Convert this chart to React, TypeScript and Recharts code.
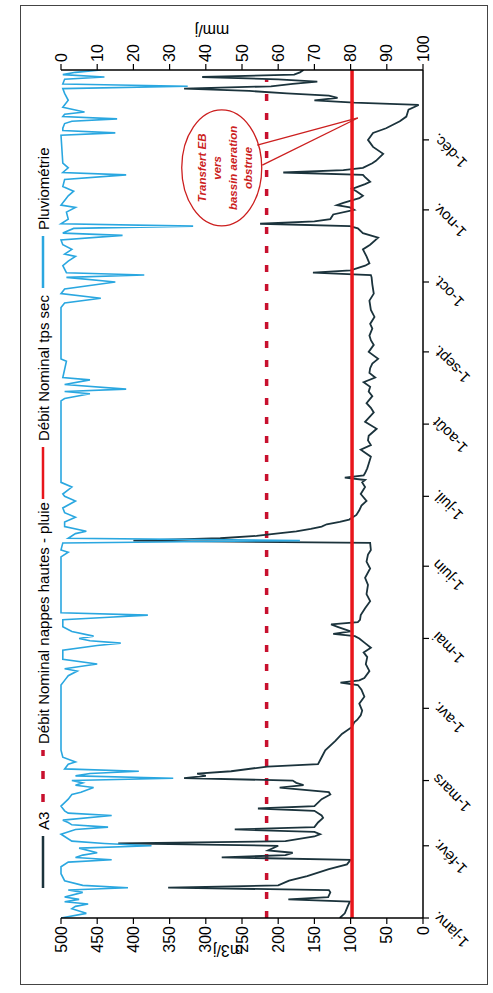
import React from 'react';
import { ComposedChart, Line, XAxis, YAxis, ReferenceLine, ReferenceDot } from 'recharts';

// day of year (0 = 1 janv.) -> value
const monthTicks = [0, 31, 59, 90, 120, 151, 181, 212, 243, 273, 304, 334];
const monthLabels = [
  '1-janv.', '1-févr.', '1-mars', '1-avr.', '1-mai', '1-juin',
  '1-juil.', '1-août', '1-sept.', '1-oct.', '1-nov.', '1-déc.',
];
const flowTicks = [0, 50, 100, 150, 200, 250, 300, 350, 400, 450, 500];
const rainTicks = [0, 10, 20, 30, 40, 50, 60, 70, 80, 90, 100];

const debitNominalPluie = 216;
const debitNominalSec = 98;

// A3 (m3/j)
const a3Flow: [number, number][] = [
  [0, 115], [2, 108], [5, 104], [7, 101], [8, 186], [9, 131], [11, 128], [12, 130], [13, 352], [14, 200],
  [16, 185], [18, 160], [21, 130], [23, 105], [25, 100], [26, 278], [27, 190], [28, 180], [29, 214], [31, 200],
  [32, 421], [33, 190], [35, 150], [36, 142], [37, 150], [38, 260], [39, 150], [41, 145], [43, 138], [44, 140],
  [46, 150], [47, 228], [48, 150], [51, 140], [53, 128], [54, 130], [56, 198], [57, 165], [58, 175], [59, 180],
  [60, 330], [61, 300], [62, 312], [63, 265], [65, 215], [66, 145], [69, 140], [72, 135], [76, 121], [79, 112],
  [82, 98], [84, 95], [85, 91], [87, 86], [89, 84], [92, 88], [95, 81], [98, 85], [100, 90], [101, 114],
  [102, 88], [103, 81], [106, 74], [109, 79], [112, 77], [114, 82], [116, 72], [118, 80], [120, 88], [121, 94],
  [122, 124], [123, 100], [125, 118], [126, 127], [127, 90], [128, 87], [130, 86], [133, 80], [136, 73], [139, 78],
  [143, 76], [146, 80], [150, 73], [153, 78], [156, 76], [158, 72], [161, 73], [162, 400], [163, 280], [164, 230],
  [165, 203], [166, 175], [167, 155], [168, 140], [169, 133], [170, 115], [171, 102], [173, 92], [175, 88], [177, 85],
  [179, 78], [182, 86], [185, 80], [187, 84], [188, 80], [189, 108], [190, 82], [191, 80], [193, 77], [195, 75],
  [198, 72], [201, 86], [203, 72], [205, 76], [207, 75], [210, 64], [213, 80], [215, 74], [217, 68], [219, 72],
  [221, 78], [224, 70], [226, 75], [228, 73], [230, 82], [232, 66], [234, 74], [236, 73], [238, 70], [240, 62],
  [243, 75], [246, 68], [248, 72], [250, 74], [253, 70], [255, 73], [258, 67], [261, 72], [265, 74], [268, 68],
  [272, 70], [275, 71], [276, 72], [277, 152], [278, 100], [280, 80], [281, 74], [284, 78], [287, 83], [289, 73],
  [292, 62], [294, 83], [296, 90], [297, 101], [298, 225], [299, 150], [300, 128], [302, 124], [304, 95], [305, 101],
  [306, 119], [307, 110], [309, 88], [310, 83], [312, 92], [313, 98], [315, 80], [316, 73], [318, 80], [319, 83],
  [320, 193], [321, 110], [322, 83], [324, 70], [325, 65], [328, 55], [331, 69], [334, 76], [337, 69], [339, 51],
  [342, 32], [344, 23], [347, 20], [349, 6], [350, 95], [351, 150], [352, 118], [353, 130], [354, 188], [355, 240],
  [356, 330], [357, 210], [358, 180], [359, 146], [360, 200], [361, 305], [362, 178], [363, 170], [364, 165],
];

// Pluviométrie (mm/j)
const pluviometrie: [number, number][] = [
  [0, 0], [2, 7], [4, 3], [5, 4], [6, 7.5], [7, 1], [8, 5], [9, 1], [11, 6], [12, 2],
  [13, 18.5], [14, 6], [16, 1], [19, 0], [22, 0], [24, 2], [25, 14], [26, 4], [27, 6], [28, 10],
  [30, 5], [31, 25], [32, 12], [33, 3], [35, 1], [36, 0], [38, 4], [39, 13], [40, 3], [41, 2],
  [42, 0.5], [44, 14], [45, 2], [46, 1], [48, 0], [51, 2], [53, 3], [54, 5.5], [56, 9], [57, 4],
  [58, 6], [59, 3], [60, 31], [61, 4], [62, 8], [63, 21.5], [64, 1], [66, 2], [67, 4], [69, 0.5],
  [72, 0], [100, 0], [102, 1], [104, 2], [106, 4.5], [107, 1], [109, 10], [111, 0.5], [115, 0.5], [117, 10],
  [118, 16.5], [119, 8], [120, 5], [121, 9], [123, 3], [125, 0.5], [128, 0.5], [129, 12], [130, 24], [131, 0],
  [155, 0], [157, 2], [158, 0], [161, 0.5], [162, 66], [163, 2], [165, 4], [166, 7], [168, 1], [170, 1],
  [172, 4], [174, 1], [176, 0.5], [179, 4], [181, 1], [182, 0.5], [185, 3], [187, 0], [222, 0], [223, 1],
  [225, 8], [226, 1], [227, 18], [229, 1], [231, 8], [232, 0.5], [239, 1.5], [240, 0], [262, 0], [264, 1],
  [266, 11], [268, 0], [270, 1], [273, 15], [275, 1.5], [276, 23], [277, 1.5], [280, 0.5], [282, 2], [284, 4],
  [285, 1], [287, 3], [289, 0.5], [291, 0], [293, 17], [294, 0.5], [296, 3.5], [297, 36.5], [298, 0], [300, 2],
  [303, 1.5], [305, 4], [306, 0], [308, 1], [310, 2], [312, 3.5], [314, 0.5], [317, 1], [319, 18], [320, 0.5],
  [322, 2], [324, 0.5], [336, 0], [337, 15], [338, 0.5], [339, 0.5], [341, 1], [342, 3], [343, 15.5], [344, 0.5],
  [345, 1], [346, 6.5], [348, 0.5], [351, 2], [354, 1], [356, 0.5], [357, 35], [358, 0.5], [360, 1], [361, 12],
  [362, 0.5], [363, 4], [364, 11],
];

// callout "Transfert EB vers bassin aeration obstrue"
const calloutCenter = { day: 322, flow: 278 };
const calloutTail = [
  [{ x: 331.8, y: 229 }, { x: 343.4, y: 90 }],
  [{ x: 323.2, y: 222 }, { x: 343.4, y: 90 }],
];
const calloutLines = ['Transfert EB', 'vers', 'bassin aeration', 'obstrue'];

const COLORS = {
  a3: '#1b333c',
  pluie: '#c8102e',
  sec: '#e8151b',
  rain: '#2aa7e0',
  callout: '#cc1f1f',
};

const FONT = '"Liberation Sans", Arial, sans-serif';

const toPoints = (rows: [number, number][]) => rows.map(([day, v]) => ({ day, v }));

const LegendSymbol = ({ color, dashed }: { color: string; dashed?: boolean }) => (
  <svg width={52} height={6} style={{ display: 'block' }}>
    <line
      x1={0}
      y1={3}
      x2={52}
      y2={3}
      stroke={color}
      strokeWidth={dashed ? 3.5 : 2.5}
      strokeDasharray={dashed ? '8 15' : undefined}
    />
  </svg>
);

const legendEntries = [
  { label: 'A3', color: COLORS.a3, dashed: false, left: 96 },
  { label: 'Débit Nominal nappes hautes - pluie', color: COLORS.pluie, dashed: true, left: 182 },
  { label: 'Débit Nominal tps sec', color: COLORS.sec, dashed: false, left: 485 },
  { label: 'Pluviométrie', color: COLORS.rain, dashed: false, left: 696 },
];

const CalloutShape = (props: { cx?: number; cy?: number }) => {
  const { cx = 0, cy = 0 } = props;
  return (
    <g>
      <ellipse cx={cx} cy={cy} rx={58} ry={40} fill="none" stroke={COLORS.callout} strokeWidth={1.3} />
      {calloutLines.map((t, i) => (
        <text
          key={t}
          x={cx}
          y={cy - 16 + i * 15.5}
          textAnchor="middle"
          fontSize={11.5}
          fontStyle="italic"
          fontWeight="bold"
          fill={COLORS.callout}
          style={{ fontFamily: FONT }}
        >
          {t}
        </text>
      ))}
    </g>
  );
};

export default function App() {
  const flowData = toPoints(a3Flow);
  const rainData = toPoints(pluviometrie);
  const tickStyle = { fontSize: 16, fill: '#000' };

  return (
    <div style={{ position: 'absolute', left: 20, top: 5, width: 468, height: 980, overflow: 'hidden' }}>
      <div
        style={{
          position: 'absolute',
          left: 0,
          top: 0,
          width: 980,
          height: 468,
          transformOrigin: '0 0',
          transform: 'translateY(980px) rotate(-90deg)',
          border: '1px solid #444',
          boxSizing: 'border-box',
          background: '#fff',
          fontFamily: FONT,
        }}
      >
        {legendEntries.map((e) => (
          <div
            key={e.label}
            style={{
              position: 'absolute',
              left: e.left,
              top: 12,
              height: 20,
              display: 'flex',
              alignItems: 'center',
              gap: 6,
              fontSize: 15,
              whiteSpace: 'nowrap',
              color: '#000',
            }}
          >
            <LegendSymbol color={e.color} dashed={e.dashed} />
            <span>{e.label}</span>
          </div>
        ))}
        <div
          style={{
            position: 'absolute',
            left: 4,
            top: 197,
            width: 60,
            height: 20,
            lineHeight: '20px',
            textAlign: 'center',
            fontSize: 16,
            transform: 'rotate(-90deg)',
          }}
        >
          m3/j
        </div>
        <div
          style={{
            position: 'absolute',
            left: 924,
            top: 181,
            width: 60,
            height: 20,
            lineHeight: '20px',
            textAlign: 'center',
            fontSize: 16,
            transform: 'rotate(-90deg)',
          }}
        >
          mm/j
        </div>
        <ComposedChart
          width={978}
          height={466}
          margin={{ top: 40, right: 4, bottom: 4, left: 6 }}
        >
          <XAxis
            dataKey="day"
            type="number"
            domain={[0, 364]}
            ticks={monthTicks}
            tickFormatter={(d: number) => monthLabels[monthTicks.indexOf(d)] ?? ''}
            interval={0}
            angle={-45}
            textAnchor="end"
            height={60}
            tick={{ fontSize: 15, fill: '#000' }}
            axisLine={{ stroke: '#000', strokeWidth: 1.5 }}
            tickLine={{ stroke: '#000', strokeWidth: 1.2 }}
            allowDataOverflow
          />
          <YAxis
            yAxisId="flow"
            domain={[0, 500]}
            ticks={flowTicks}
            interval={0}
            width={60}
            tick={tickStyle}
            axisLine={{ stroke: '#000', strokeWidth: 1.5 }}
            tickLine={{ stroke: '#000', strokeWidth: 1.2 }}
          />
          <YAxis
            yAxisId="rain"
            orientation="right"
            domain={[0, 100]}
            reversed
            ticks={rainTicks}
            interval={0}
            width={60}
            tick={tickStyle}
            axisLine={{ stroke: '#000', strokeWidth: 1.5 }}
            tickLine={{ stroke: '#000', strokeWidth: 1.2 }}
          />
          <ReferenceLine
            yAxisId="flow"
            segment={[{ x: 0, y: debitNominalPluie }, { x: 360, y: debitNominalPluie }]}
            stroke={COLORS.pluie}
            strokeWidth={3.5}
            strokeDasharray="7 12"
          />
          <Line
            yAxisId="flow"
            data={flowData}
            dataKey="v"
            type="linear"
            stroke={COLORS.a3}
            strokeWidth={1.8}
            dot={false}
            isAnimationActive={false}
          />
          <Line
            yAxisId="rain"
            data={rainData}
            dataKey="v"
            type="linear"
            stroke={COLORS.rain}
            strokeWidth={1.6}
            dot={false}
            isAnimationActive={false}
          />
          <ReferenceLine yAxisId="flow" y={debitNominalSec} stroke={COLORS.sec} strokeWidth={3.5} />
          <ReferenceDot
            yAxisId="flow"
            x={calloutCenter.day}
            y={calloutCenter.flow}
            r={40}
            shape={<CalloutShape />}
          />
          {calloutTail.map((seg, i) => (
            <ReferenceLine key={i} yAxisId="flow" segment={seg} stroke={COLORS.callout} strokeWidth={1.3} />
          ))}
        </ComposedChart>
      </div>
    </div>
  );
}
